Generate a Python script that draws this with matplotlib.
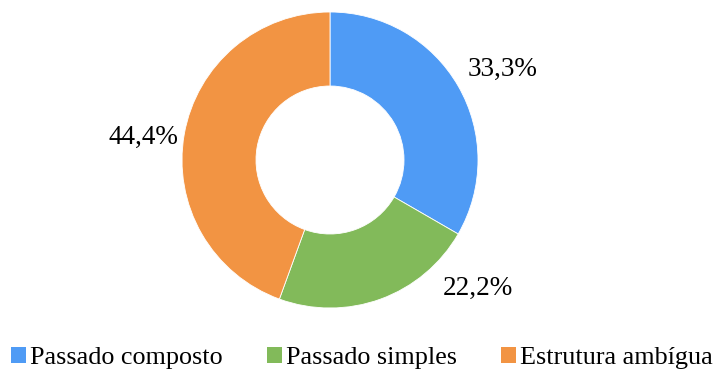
import matplotlib.pyplot as plt
from matplotlib.patches import Patch

# Distribuição das estruturas
categorias = ['Passado composto', 'Passado simples', 'Estrutura ambígua']
percentuais = [33.3, 22.2, 44.4]
cores = ['#4F9BF5', '#82BA5A', '#F29443']

plt.rcParams['font.family'] = ['Liberation Serif', 'DejaVu Serif']

fig = plt.figure(figsize=(7.16, 3.72), dpi=100)
ax = fig.add_axes([0, 0, 1, 1])

ax.pie(percentuais, colors=cores, startangle=90, counterclock=False,
       radius=148, center=(330, 212),
       wedgeprops=dict(width=74, edgecolor='white', linewidth=0.6))

# a pizza redefine os limites; coordenadas em pixels
ax.set_xlim(0, 716)
ax.set_ylim(0, 372)
ax.set_aspect('equal')
ax.axis('off')

# rótulos com os percentuais
pos_rotulos = [(503, 303), (478, 84), (143, 235)]
for p, (x, y) in zip(percentuais, pos_rotulos):
    ax.text(x, y, f'{p:.1f}%'.replace('.', ','), fontsize=19.5,
            ha='center', va='center')

handles = [Patch(facecolor=c, edgecolor='none') for c in cores]
fig.legend(handles, categorias, loc='center left', bbox_to_anchor=(11 / 716, 14 / 372),
           ncol=3, frameon=False, fontsize=18.8, handlelength=0.57,
           handleheight=0.57, handletextpad=0.15, columnspacing=1.7,
           borderaxespad=0, borderpad=0)

fig.savefig('out.png', dpi=100)
